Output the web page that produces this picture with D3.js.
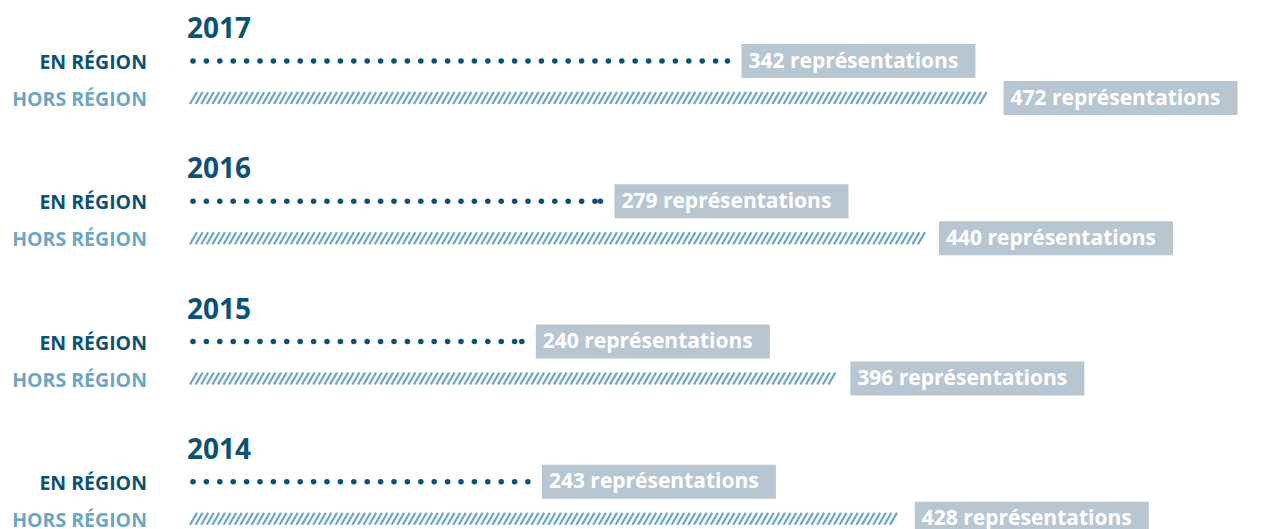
<!DOCTYPE html>
<html><head><meta charset="utf-8">
<script src="https://cdn.jsdelivr.net/npm/d3@7"></script>
<style>
html,body{margin:0;padding:0;background:#fff;overflow:hidden}
svg{display:block;font-family:"Open Sans","Noto Sans",sans-serif}
</style></head><body>
<svg id="c" width="1262" height="529"></svg>
<script>
const years = ["2017", "2016", "2015", "2014"];
const enRegion = [342, 279, 240, 243];
const horsRegion = [472, 440, 396, 428];
const rowLabels = ["EN RÉGION", "HORS RÉGION"];
const unitLabel = "représentations";

const svg = d3.select("#c");
const dark = "#0c5274", light = "#6ca6c3", boxFill = "#b8c6d1";
const x = d3.scaleLinear().domain([0, 500]).range([38, 1046]);
const x0 = 190;
const y = d3.scaleBand().domain(years).range([0, 561]).paddingInner(0);
const rowY = d => y(d) + 61;

years.forEach((yr, i) => {
  const g = svg.append("g");
  const yEn = rowY(yr), yHors = yEn + 37;
  g.append("text").attr("x", 187).attr("y", yEn - 23).text(yr)
    .attr("fill", dark).attr("font-weight", 700).attr("font-size", 28);
  g.append("text").attr("x", 147).attr("y", yEn + 3).attr("dominant-baseline", "middle")
    .attr("text-anchor", "end").text(rowLabels[0]).attr("fill", dark)
    .attr("font-weight", 700).attr("font-size", 19.5);
  g.append("text").attr("x", 147).attr("y", yHors + 3).attr("dominant-baseline", "middle")
    .attr("text-anchor", "end").text(rowLabels[1]).attr("fill", light)
    .attr("font-weight", 700).attr("font-size", 19.5);

  // dots
  const endEn = x(enRegion[i]);
  const dots = d3.range(x0 + 3, endEn - 2, 13.4);
  dots.push(endEn);
  g.selectAll("circle").data(dots).join("circle")
    .attr("cx", d => d).attr("cy", yEn).attr("r", 2.8).attr("fill", dark);

  // hatch
  const endH = x(horsRegion[i]);
  const hs = d3.range(x0, endH - 7, 5.6);
  g.selectAll("line").data(hs).join("line")
    .attr("x1", d => d).attr("y1", yHors + 6)
    .attr("x2", d => d + 7).attr("y2", yHors - 6)
    .attr("stroke", light).attr("stroke-width", 2.3);

  // labels
  [[enRegion[i], yEn, endEn], [horsRegion[i], yHors, endH]].forEach(([v, yy, e]) => {
    const bx = e + 14;
    g.append("rect").attr("x", bx).attr("y", yy - 17).attr("width", 234).attr("height", 34)
      .attr("fill", boxFill);
    g.append("text").attr("x", bx + 7).attr("y", yy + 1).attr("dominant-baseline", "middle")
      .text(v + " " + unitLabel).attr("fill", "#fff").attr("font-weight", 700)
      .attr("font-size", 21);
  });
});
</script>
</body></html>
